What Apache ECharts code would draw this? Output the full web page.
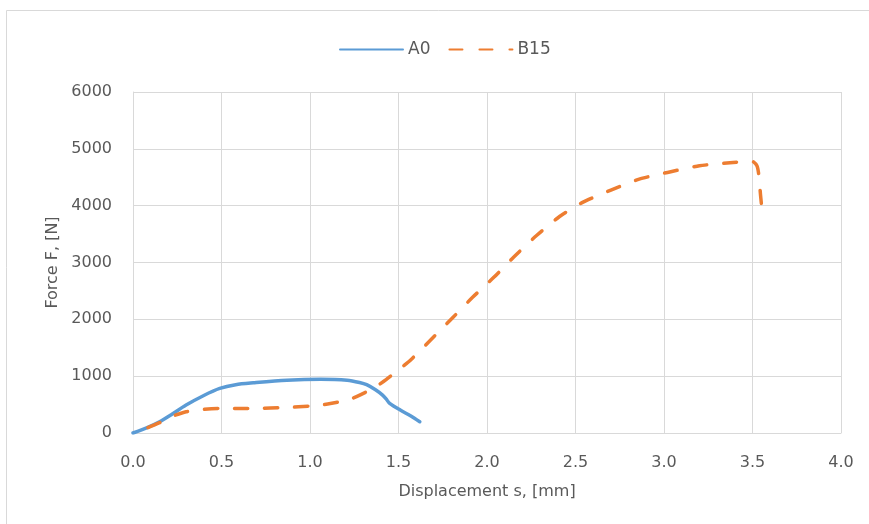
<!DOCTYPE html>
<html>
<head>
<meta charset="utf-8">
<script src="https://cdn.jsdelivr.net/npm/echarts@6/dist/echarts.min.js"></script>
<style>html,body{margin:0;padding:0;background:#fff;}#c{width:869px;height:524px;}</style>
</head>
<body>
<div id="c"></div>
<script>
// Data
const seriesNames = ['A0', 'B15'];
const a0X = [0, 0.08, 0.15, 0.22, 0.30, 0.40, 0.49, 0.58, 0.68, 0.87, 1.06, 1.21, 1.28, 1.32, 1.37, 1.41, 1.43, 1.45, 1.51, 1.57, 1.62];
const a0Y = [0, 95, 198, 330, 491, 660, 784, 850, 883, 930, 947, 930, 889, 850, 760, 667, 600, 521, 403, 300, 198];
const b15X = [0, 0.08, 0.15, 0.22, 0.30, 0.40, 0.49, 0.68, 0.87, 1.00, 1.10, 1.17, 1.24, 1.29, 1.36, 1.43, 1.50, 1.57, 1.68, 1.81, 1.92, 2.04, 2.15, 2.28, 2.41, 2.54, 2.70, 2.86, 3.02, 3.20, 3.39, 3.50, 3.525, 3.535, 3.545, 3.55];
const b15Y = [0, 90, 181, 290, 374, 415, 433, 433, 450, 474, 510, 550, 610, 680, 790, 940, 1110, 1290, 1632, 2041, 2392, 2743, 3094, 3474, 3810, 4058, 4275, 4468, 4585, 4702, 4760, 4778, 4702, 4556, 4200, 4040];
const xTicks = {min: 0, max: 4, interval: 0.5};
const yTicks = {min: 0, max: 6000, interval: 1000};

const FONT = 'DejaVu Sans';
const TXT = '#595959';
const GRID = '#d9d9d9';

function pairs(xs, ys) { return xs.map((x, i) => [x, ys[i]]); }

const chart = echarts.init(document.getElementById('c'), null, {renderer: 'canvas'});
chart.setOption({
  animation: false,
  backgroundColor: '#fff',
  textStyle: {fontFamily: FONT, color: TXT},
  graphic: [{
    type: 'rect', silent: true, z: -10,
    shape: {x: 6.5, y: 10.5, width: 900, height: 600},
    style: {fill: 'none', stroke: GRID, lineWidth: 1}
  }],
  legend: {
    top: 36, left: 334,
    itemWidth: 63, itemHeight: 14, itemGap: 18,
    itemStyle: {color: 'rgba(0,0,0,0)', borderWidth: 0, opacity: 0},
    lineStyle: {dashOffset: 0},
    textStyle: {fontFamily: FONT, fontSize: 17, color: TXT},
    data: seriesNames
  },
  grid: {left: 133, right: 28, top: 92, bottom: 91, containLabel: false},
  xAxis: {
    type: 'value', min: xTicks.min, max: xTicks.max, interval: xTicks.interval,
    name: 'Displacement s, [mm]', nameLocation: 'middle', nameGap: 51,
    nameTextStyle: {fontFamily: FONT, fontSize: 16, color: TXT},
    axisLine: {show: true, lineStyle: {color: GRID, width: 1}},
    axisTick: {show: false},
    axisLabel: {margin: 22, fontFamily: FONT, fontSize: 16, color: TXT, formatter: v => v.toFixed(1)},
    splitLine: {show: true, lineStyle: {color: GRID, width: 1}}
  },
  yAxis: {
    type: 'value', min: yTicks.min, max: yTicks.max, interval: yTicks.interval,
    name: 'Force F, [N]', nameLocation: 'middle', nameGap: 68,
    nameTextStyle: {fontFamily: FONT, fontSize: 16, color: TXT},
    axisLine: {show: true, lineStyle: {color: GRID, width: 1}},
    axisTick: {show: false},
    axisLabel: {margin: 21, fontFamily: FONT, fontSize: 16, color: TXT, formatter: v => String(v)},
    splitLine: {show: true, lineStyle: {color: GRID, width: 1}}
  },
  series: [
    {
      name: seriesNames[0], type: 'line', data: pairs(a0X, a0Y),
      showSymbol: false, symbol: 'none', smooth: 0.3,
      color: '#5B9BD5',
      lineStyle: {color: '#5B9BD5', width: 3.5, cap: 'round', join: 'round'}
    },
    {
      name: seriesNames[1], type: 'line', data: pairs(b15X, b15Y),
      showSymbol: false, symbol: 'none', smooth: 0.2,
      color: '#ED7D31',
      lineStyle: {color: '#ED7D31', width: 3.5, type: [13, 17], dashOffset: 14, cap: 'round', join: 'round'}
    }
  ]
});
</script>
</body>
</html>
